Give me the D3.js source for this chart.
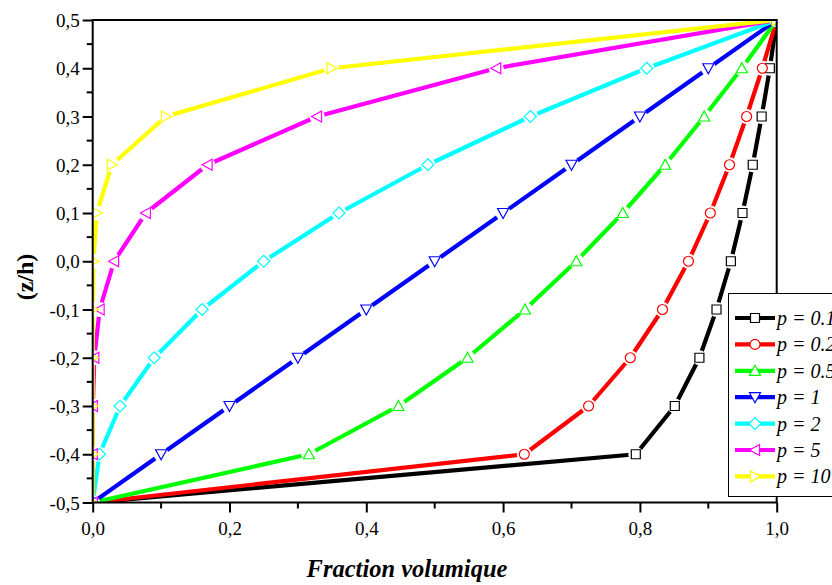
<!DOCTYPE html>
<html><head><meta charset="utf-8">
<script src="https://cdn.jsdelivr.net/npm/d3@7"></script>
<style>
html,body{margin:0;padding:0;background:#fff;}
svg{display:block;}
text{font-family:"Liberation Serif","Times New Roman",serif;}
</style></head>
<body><svg id="c" width="832" height="585"></svg>
<script>
// z/h positions
const zh = [-0.5,-0.4,-0.3,-0.2,-0.1,0.0,0.1,0.2,0.3,0.4,0.5];
// volume fraction for each p
const v_p01 = [0, 0.794, 0.851, 0.887, 0.912, 0.933, 0.950, 0.965, 0.978, 0.990, 1.0];
const v_p02 = [0, 0.631, 0.725, 0.786, 0.833, 0.871, 0.903, 0.931, 0.956, 0.979, 1.0];
const v_p05 = [0, 0.316, 0.447, 0.548, 0.632, 0.707, 0.775, 0.837, 0.894, 0.949, 1.0];
const v_p1  = [0, 0.10, 0.20, 0.30, 0.40, 0.50, 0.60, 0.70, 0.80, 0.90, 1.0];
const v_p2  = [0, 0.01, 0.04, 0.09, 0.16, 0.25, 0.36, 0.49, 0.64, 0.81, 1.0];
const v_p5  = [0, 0.00001, 0.0003, 0.0024, 0.0102, 0.0313, 0.0778, 0.168, 0.328, 0.590, 1.0];
const v_p10 = [0, 0, 0, 0.00001, 0.0001, 0.001, 0.006, 0.028, 0.107, 0.349, 1.0];
const seriesNames = ["p = 0.1","p = 0.2","p = 0.5","p = 1","p = 2","p = 5","p = 10"];
const seriesValues = [v_p01, v_p02, v_p05, v_p1, v_p2, v_p5, v_p10];
const seriesColors = ["#000000","#ff0000","#00ff00","#0000ff","#00ffff","#ff00ff","#ffff00"];
const seriesMarkers = ["square","circle","up","down","diamond","left","right"];
const xTicks = [0,0.2,0.4,0.6,0.8,1.0];
const yTicks = [-0.5,-0.4,-0.3,-0.2,-0.1,0,0.1,0.2,0.3,0.4,0.5];
const xTitle = "Fraction volumique";
const yTitle = "(z/h)";

const svg = d3.select("#c");
const L = 92.7, R = 776.7, T = 20, B = 502.5;
const x = d3.scaleLinear().domain([0,1]).range([L,R]);
const y = d3.scaleLinear().domain([-0.5,0.5]).range([B,T]);
const fmt = v => (v < -1e-9 ? "-" : "") + Math.abs(v).toFixed(1).replace(".", ",");

function markerPath(type, s){
  const h = s/2;
  switch(type){
    case "square": return `M${-h+0.5},${-h+0.5}H${h-0.5}V${h-0.5}H${-h+0.5}Z`;
    case "circle": return `M${h},0A${h},${h} 0 1,1 ${-h},0A${h},${h} 0 1,1 ${h},0Z`;
    case "up": return `M0,${-h-0.5}L${h+0.5},${h-0.5}L${-h-0.5},${h-0.5}Z`;
    case "down": return `M0,${h+0.5}L${h+0.5},${-h+0.5}L${-h-0.5},${-h+0.5}Z`;
    case "diamond": return `M0,${-h-1}L${h+1},0L0,${h+1}L${-h-1},0Z`;
    case "left": return `M${-h-0.5},0L${h-0.5},${-h-0.5}L${h-0.5},${h+0.5}Z`;
    case "right": return `M${h+0.5},0L${-h+0.5},${-h-0.5}L${-h+0.5},${h+0.5}Z`;
  }
}

const defs = svg.append("defs");
defs.append("clipPath").attr("id","plotclip").append("rect")
  .attr("x",L).attr("y",T).attr("width",R-L).attr("height",B-T);

// masks for line gaps around markers
seriesValues.forEach((vals,i)=>{
  const m = defs.append("mask").attr("id","m"+i).attr("maskUnits","userSpaceOnUse")
    .attr("x",0).attr("y",0).attr("width",832).attr("height",585);
  m.append("rect").attr("x",0).attr("y",0).attr("width",832).attr("height",585).attr("fill","#fff");
  vals.forEach((v,j)=>{
    m.append("circle").attr("cx",x(v)).attr("cy",y(zh[j])).attr("r",7.5).attr("fill","#000");
  });
});

const plot = svg.append("g").attr("clip-path","url(#plotclip)");
const line = d3.line().x(d=>x(d[0])).y(d=>y(d[1]));
seriesValues.forEach((vals,i)=>{
  const pts = vals.map((v,j)=>[v,zh[j]]);
  const g = plot.append("g");
  g.append("path").attr("d",line(pts)).attr("fill","none")
    .attr("stroke",seriesColors[i]).attr("stroke-width",4.2)
    .attr("stroke-linejoin","round").attr("mask","url(#m"+i+")");
  g.selectAll("path.mk").data(pts).enter().append("path").attr("class","mk")
    .attr("d",markerPath(seriesMarkers[i],10))
    .attr("transform",d=>`translate(${x(d[0])},${y(d[1])})`)
    .attr("fill","#fff").attr("stroke",seriesColors[i]).attr("stroke-width",1.2);
});

// frame
svg.append("rect").attr("x",L).attr("y",T).attr("width",R-L).attr("height",B-T)
  .attr("fill","none").attr("stroke","#000").attr("stroke-width",2);

// axes
const xAxis = d3.axisBottom(x).tickValues(xTicks).tickSize(10).tickPadding(9).tickFormat(fmt);
const gx = svg.append("g").attr("transform",`translate(0,${B})`).call(xAxis);
const yAxis = d3.axisLeft(y).tickValues(yTicks).tickSize(10).tickPadding(3).tickFormat(fmt);
const gy = svg.append("g").attr("transform",`translate(${L},0)`).call(yAxis);
[gx,gy].forEach(g=>{
  g.select(".domain").remove();
  g.selectAll(".tick line").attr("stroke","#000").attr("stroke-width",2);
  g.selectAll(".tick text").attr("fill","#000").style("font-family","'Liberation Serif', serif").style("font-size","19px");
});
gy.selectAll(".tick text").attr("dy","0.35em");
// minor ticks
const xMinor = d3.range(0.1,1.0,0.2);
svg.append("g").selectAll("line").data(xMinor).enter().append("line")
  .attr("x1",d=>x(d)).attr("x2",d=>x(d)).attr("y1",B).attr("y2",B+6)
  .attr("stroke","#000").attr("stroke-width",2);
const yMinor = d3.range(-0.45,0.5,0.1);
svg.append("g").selectAll("line").data(yMinor).enter().append("line")
  .attr("x1",L-6).attr("x2",L).attr("y1",d=>y(d)).attr("y2",d=>y(d))
  .attr("stroke","#000").attr("stroke-width",2);

// titles
svg.append("text").attr("x",407).attr("y",577).attr("text-anchor","middle")
  .style("font-size","24.5px").style("font-weight","bold").style("font-style","italic").text(xTitle);
svg.append("text").attr("transform","translate(33,277) rotate(-90)").attr("text-anchor","middle")
  .style("font-size","24px").style("font-weight","bold").text(yTitle);

// legend
const lg = svg.append("g");
lg.append("rect").attr("x",728.5).attr("y",293.5).attr("width",120).attr("height",203)
  .attr("fill","#fff").attr("stroke","#000").attr("stroke-width",1);
seriesNames.forEach((name,i)=>{
  const yy = 318 + i*26.4;
  lg.append("line").attr("x1",735).attr("x2",775).attr("y1",yy).attr("y2",yy)
    .attr("stroke",seriesColors[i]).attr("stroke-width",4.2);
  lg.append("path").attr("d",markerPath(seriesMarkers[i],10))
    .attr("transform",`translate(755,${yy})`)
    .attr("fill","#fff").attr("stroke",seriesColors[i]).attr("stroke-width",1.2);
  lg.append("text").attr("x",777).attr("y",yy+7)
    .style("font-size","20px").style("font-style","italic").text(name);
});
</script></body></html>
